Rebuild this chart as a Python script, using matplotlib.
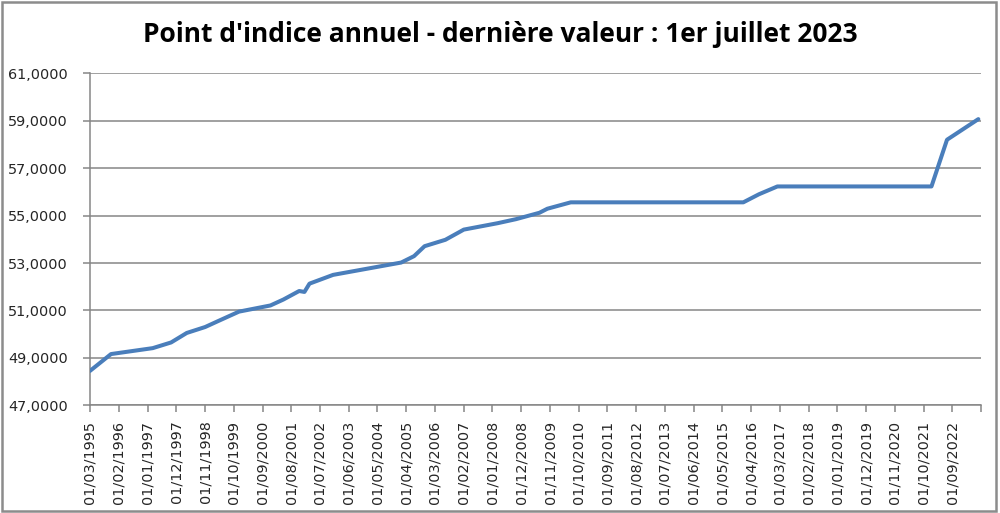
import pandas as pd
import matplotlib.pyplot as plt
from matplotlib.patches import Rectangle

# Valeur annuelle du point d'indice (euros), dates de revalorisation
dates = ['01/03/1995', '01/11/1995', '01/03/1997', '01/10/1997', '01/04/1998',
         '01/11/1998', '01/04/1999', '01/12/1999', '01/12/2000', '01/05/2001',
         '01/11/2001', '01/01/2002', '01/03/2002', '01/12/2002', '01/01/2004',
         '01/02/2005', '01/07/2005', '01/11/2005', '01/07/2006', '01/02/2007',
         '01/03/2008', '01/10/2008', '01/07/2009', '01/10/2009', '01/07/2010',
         '01/01/2016', '01/07/2016', '01/02/2017', '01/01/2022', '01/07/2022',
         '01/07/2023']
valeurs = [48.45, 49.16, 49.41, 49.65, 50.05,
           50.30, 50.55, 50.95, 51.21, 51.46,
           51.82, 51.78, 52.13, 52.50, 52.76,
           53.02, 53.29, 53.71, 53.98, 54.41,
           54.68, 54.85, 55.12, 55.29, 55.56,
           55.56, 55.90, 56.23, 56.23, 58.20,
           59.07]

# Graduations de l'axe des dates (pas de 11 mois)
tick_labels = ['01/03/1995', '01/02/1996', '01/01/1997', '01/12/1997', '01/11/1998',
               '01/10/1999', '01/09/2000', '01/08/2001', '01/07/2002', '01/06/2003',
               '01/05/2004', '01/04/2005', '01/03/2006', '01/02/2007', '01/01/2008',
               '01/12/2008', '01/11/2009', '01/10/2010', '01/09/2011', '01/08/2012',
               '01/07/2013', '01/06/2014', '01/05/2015', '01/04/2016', '01/03/2017',
               '01/02/2018', '01/01/2019', '01/12/2019', '01/11/2020', '01/10/2021',
               '01/09/2022']
x_fin = '01/08/2023'

y_ticks = [47, 49, 51, 53, 55, 57, 59, 61]

x = pd.to_datetime(dates, format='%d/%m/%Y')
ticks = pd.to_datetime(tick_labels + [x_fin], format='%d/%m/%Y')

gris = '#868686'
texte = '#262626'

fig = plt.figure(figsize=(10, 5.13), dpi=100)
ax = fig.add_axes([0.090, 0.210, 0.891, 0.647])

ax.plot(x, valeurs, color='#4A7EBB', linewidth=2.9, solid_capstyle='round',
        solid_joinstyle='round', zorder=3)

ax.set_xlim(ticks[0], ticks[-1])
ax.set_ylim(47, 61)
ax.set_yticks(y_ticks)
ax.set_yticklabels([f'{v:.4f}'.replace('.', ',') for v in y_ticks])
ax.set_xticks(ticks)
ax.set_xticklabels(tick_labels + [''], rotation=90)

ax.grid(axis='y', color=gris, linewidth=1.1)
ax.set_axisbelow(True)
for s in ['top', 'right']:
    ax.spines[s].set_visible(False)
for s in ['left', 'bottom']:
    ax.spines[s].set_color(gris)
    ax.spines[s].set_linewidth(1.1)
ax.tick_params(axis='both', direction='out', length=5, width=1.1, color=gris,
               labelsize=10.4, labelcolor=texte)
ax.tick_params(axis='x', pad=6)
ax.tick_params(axis='y', pad=11)

fig.text(0.5, 0.932, "Point d'indice annuel - dernière valeur : 1er juillet 2023",
         ha='center', va='center', fontsize=19, fontweight='bold',
         family='Open Sans', color='#000000')

# cadre du graphique
fig.patches.append(Rectangle((0.002, 0.004), 0.994, 0.993, transform=fig.transFigure,
                             fill=False, edgecolor='#8c8c8c', linewidth=1.8))

fig.savefig('out.png', dpi=100)
